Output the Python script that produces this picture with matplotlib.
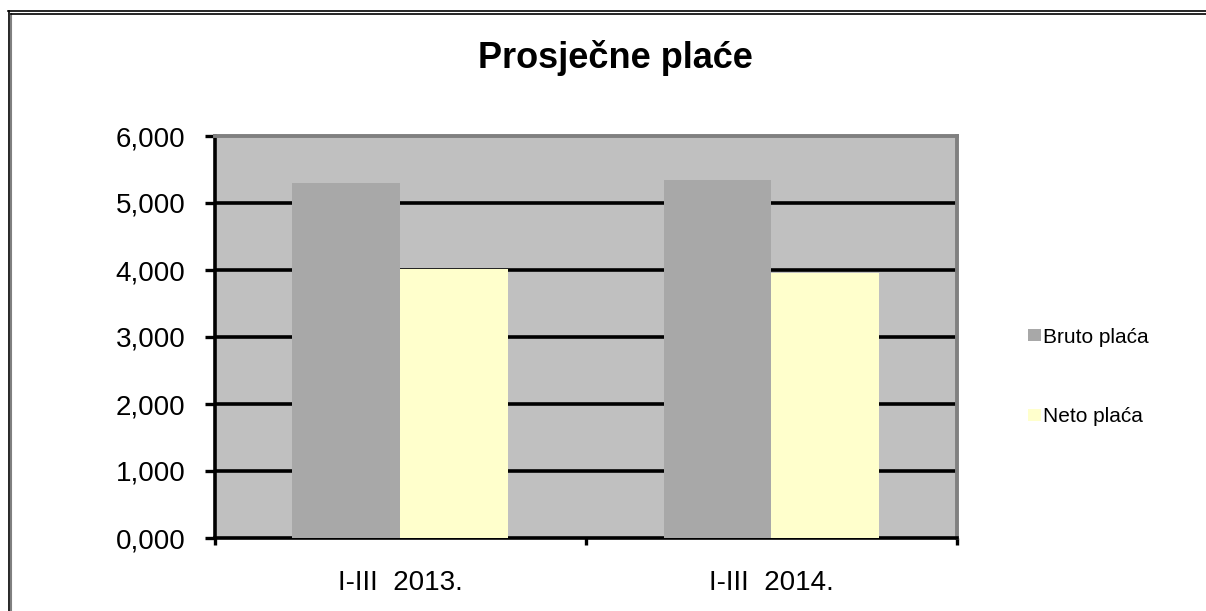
import matplotlib.pyplot as plt
from matplotlib.lines import Line2D
from matplotlib.ticker import FuncFormatter
import numpy as np

plt.rcParams['font.family'] = ['Liberation Sans', 'DejaVu Sans']

# Data
periods = ['I-III  2013.', 'I-III  2014.']
bruto = [5305, 5340]
neto = [4010, 3950]
series_names = ['Bruto plaća', 'Neto plaća']
y_ticks = [0, 1000, 2000, 3000, 4000, 5000, 6000]

W, H = 1206, 611
fig = plt.figure(figsize=(W / 100, H / 100), dpi=100)

# plot area position in pixels
left, right, top, bottom = 214.5, 957, 136, 538
ax = fig.add_axes([left / W, 1 - bottom / H, (right - left) / W, (bottom - top) / H])
ax.set_facecolor('#C0C0C0')

x = np.arange(len(periods))
bw = 0.29
b1 = ax.bar(x - bw / 2, bruto, bw, color='#A8A8A8', label=series_names[0], zorder=3)
b2 = ax.bar(x + bw / 2, neto, bw, color='#FFFFCC', label=series_names[1], zorder=3)

ax.set_xlim(-0.5, 1.5)
ax.set_ylim(0, 6000)
ax.set_yticks(y_ticks)
ax.yaxis.set_major_formatter(FuncFormatter(lambda v, p: f"{int(v) // 1000},{int(v) % 1000:03d}"))

# gridlines
for t in y_ticks[1:-1]:
    ax.axhline(t, color='black', linewidth=2.6, zorder=2)

# spines
for s in ['left', 'bottom']:
    ax.spines[s].set_color('black')
    ax.spines[s].set_linewidth(2.6)
for s in ['top', 'right']:
    ax.spines[s].set_color('#808080')
    ax.spines[s].set_linewidth(2.8)

ax.tick_params(axis='y', direction='out', length=7, width=2.4, pad=14, labelsize=20)
ax.set_xticks(x)
ax.set_xticklabels(periods)
ax.set_xticks([-0.5, 0.5, 1.5], minor=True)
ax.tick_params(axis='x', which='major', length=0, pad=23, labelsize=20)
ax.tick_params(axis='x', which='minor', direction='out', length=5, width=2.4)

fig.text(615 / W, 1 - 58 / H, 'Prosječne plaće', ha='center', va='center',
         fontsize=26, fontweight='bold')

fig.legend(handles=[b1, b2], loc='center left', bbox_to_anchor=(1028 / W, 1 - 377 / H),
           frameon=False, fontsize=15, handlelength=0.6, handleheight=0.5,
           handletextpad=0.1, labelspacing=2.9, borderpad=0, borderaxespad=0)

# double frame on left and top
fig.add_artist(Line2D([8.5 / W, 8.5 / W], [0, 1 - 11 / H], color='black', linewidth=1.2,
                      transform=fig.transFigure))
fig.add_artist(Line2D([11 / W, 11 / W], [0, 1 - 13.5 / H], color='#808080', linewidth=1.5,
                      transform=fig.transFigure))
fig.add_artist(Line2D([8 / W, 1], [1 - 11 / H, 1 - 11 / H], color='black', linewidth=1.2,
                      transform=fig.transFigure))
fig.add_artist(Line2D([11 / W, 1], [1 - 13.5 / H, 1 - 13.5 / H], color='black', linewidth=1.2,
                      transform=fig.transFigure))

fig.savefig('out.png', dpi=100)
